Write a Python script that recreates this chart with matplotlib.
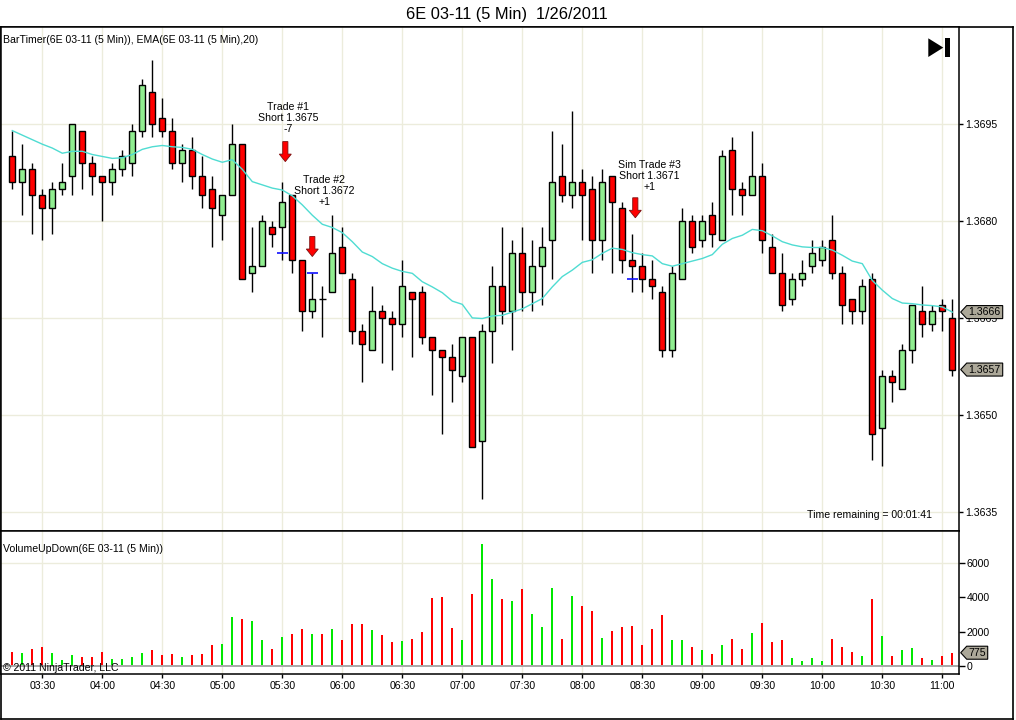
import matplotlib
matplotlib.use('Agg')
import matplotlib.pyplot as plt
from matplotlib.patches import Polygon, Rectangle
import numpy as np

# ---------------- data ----------------
title = "6E 03-11 (5 Min)  1/26/2011"
opens = [1.3690, 1.3686, 1.3688, 1.3684, 1.3682, 1.3685, 1.3687, 1.3694, 1.3689, 1.3687,
         1.3686, 1.3688, 1.3689, 1.3694, 1.3700, 1.3696, 1.3694, 1.3689, 1.3691, 1.3687,
         1.3685, 1.3681, 1.3684, 1.3692, 1.3672, 1.3673, 1.3679, 1.3679, 1.3684, 1.3674,
         1.3666, 1.3668, 1.3669, 1.3676, 1.3671, 1.3663, 1.3660, 1.3666, 1.3665, 1.3664,
         1.3669, 1.3669, 1.3662, 1.3660, 1.3659, 1.3656, 1.3662, 1.3646, 1.3663, 1.3670,
         1.3666, 1.3675, 1.3669, 1.3673, 1.3677, 1.3687, 1.3684, 1.3686, 1.3685, 1.3677,
         1.3687, 1.3682, 1.3674, 1.3673, 1.3671, 1.3669, 1.3660, 1.3671, 1.3680, 1.3677,
         1.3681, 1.3677, 1.3691, 1.3685, 1.3684, 1.3687, 1.3676, 1.3672, 1.3668, 1.3671,
         1.3673, 1.3674, 1.3677, 1.3672, 1.3668, 1.3666, 1.3671, 1.3648, 1.3656, 1.3654,
         1.3660, 1.3666, 1.3664, 1.3667, 1.3665]
highs = [1.3694, 1.3692, 1.3689, 1.3685, 1.3686, 1.3689, 1.3695, 1.3694, 1.3690, 1.3687,
         1.3689, 1.3691, 1.3695, 1.3702, 1.3705, 1.3699, 1.3696, 1.3692, 1.3693, 1.3690,
         1.3687, 1.3684, 1.3695, 1.3692, 1.3679, 1.3681, 1.3680, 1.3686, 1.3684, 1.3674,
         1.3672, 1.3670, 1.3681, 1.3679, 1.3672, 1.3664, 1.3670, 1.3667, 1.3666, 1.3674,
         1.3669, 1.3670, 1.3662, 1.3660, 1.3661, 1.3662, 1.3662, 1.3664, 1.3673, 1.3679,
         1.3677, 1.3679, 1.3677, 1.3679, 1.3694, 1.3692, 1.3697, 1.3688, 1.3687, 1.3688,
         1.3687, 1.3683, 1.3678, 1.3675, 1.3674, 1.3670, 1.3673, 1.3682, 1.3681, 1.3681,
         1.3683, 1.3691, 1.3693, 1.3686, 1.3694, 1.3689, 1.3678, 1.3675, 1.3672, 1.3674,
         1.3677, 1.3677, 1.3681, 1.3673, 1.3668, 1.3671, 1.3672, 1.3657, 1.3657, 1.3661,
         1.3667, 1.3670, 1.3667, 1.3668, 1.3668]
lows = [1.3685, 1.3681, 1.3678, 1.3677, 1.3678, 1.3684, 1.3684, 1.3685, 1.3684, 1.3680,
        1.3684, 1.3687, 1.3687, 1.3693, 1.3693, 1.3693, 1.3688, 1.3686, 1.3685, 1.3682,
        1.3676, 1.3677, 1.3684, 1.3671, 1.3669, 1.3673, 1.3676, 1.3674, 1.3672, 1.3663,
        1.3665, 1.3662, 1.3669, 1.3672, 1.3661, 1.3655, 1.3660, 1.3658, 1.3657, 1.3662,
        1.3659, 1.3661, 1.3653, 1.3647, 1.3652, 1.3655, 1.3645, 1.3637, 1.3658, 1.3664,
        1.3660, 1.3666, 1.3666, 1.3667, 1.3671, 1.3683, 1.3682, 1.3677, 1.3672, 1.3674,
        1.3672, 1.3672, 1.3669, 1.3669, 1.3668, 1.3659, 1.3659, 1.3671, 1.3675, 1.3676,
        1.3676, 1.3677, 1.3681, 1.3681, 1.3684, 1.3675, 1.3672, 1.3666, 1.3667, 1.3670,
        1.3672, 1.3673, 1.3671, 1.3664, 1.3664, 1.3664, 1.3643, 1.3642, 1.3652, 1.3654,
        1.3658, 1.3662, 1.3663, 1.3663, 1.3656]
closes = [1.3686, 1.3688, 1.3684, 1.3682, 1.3685, 1.3686, 1.3695, 1.3689, 1.3687, 1.3686,
          1.3688, 1.3690, 1.3694, 1.3701, 1.3695, 1.3694, 1.3689, 1.3691, 1.3687, 1.3684,
          1.3682, 1.3684, 1.3692, 1.3671, 1.3673, 1.3680, 1.3678, 1.3683, 1.3674, 1.3666,
          1.3668, 1.3668, 1.3675, 1.3672, 1.3663, 1.3661, 1.3666, 1.3665, 1.3664, 1.3670,
          1.3668, 1.3662, 1.3660, 1.3659, 1.3657, 1.3662, 1.3645, 1.3663, 1.3670, 1.3666,
          1.3675, 1.3669, 1.3673, 1.3676, 1.3686, 1.3684, 1.3686, 1.3684, 1.3677, 1.3686,
          1.3683, 1.3674, 1.3673, 1.3671, 1.3670, 1.3660, 1.3672, 1.3680, 1.3676, 1.3680,
          1.3678, 1.3690, 1.3685, 1.3684, 1.3687, 1.3677, 1.3672, 1.3667, 1.3671, 1.3672,
          1.3675, 1.3676, 1.3672, 1.3667, 1.3666, 1.3670, 1.3647, 1.3656, 1.3655, 1.3660,
          1.3667, 1.3664, 1.3666, 1.3666, 1.3657]
ema20 = [1.36940, 1.36933, 1.36926, 1.36919, 1.36913, 1.36905, 1.36908, 1.36908, 1.36903, 1.36900,
         1.36897, 1.36898, 1.36903, 1.36911, 1.36915, 1.36917, 1.36915, 1.36914, 1.36911, 1.36903,
         1.36896, 1.36891, 1.36895, 1.36880, 1.36861, 1.36856, 1.36851, 1.36848, 1.36839, 1.36825,
         1.36809, 1.36795, 1.36790, 1.36782, 1.36768, 1.36752, 1.36745, 1.36734, 1.36727, 1.36722,
         1.36719, 1.36706, 1.36698, 1.36689, 1.36676, 1.36671, 1.36650, 1.36649, 1.36653, 1.36654,
         1.36659, 1.36664, 1.36672, 1.36680, 1.36698, 1.36714, 1.36724, 1.36736, 1.36740, 1.36750,
         1.36758, 1.36756, 1.36751, 1.36748, 1.36746, 1.36734, 1.36730, 1.36734, 1.36738, 1.36742,
         1.36748, 1.36764, 1.36773, 1.36778, 1.36787, 1.36785, 1.36777, 1.36768, 1.36763, 1.36760,
         1.36759, 1.36759, 1.36755, 1.36747, 1.36738, 1.36734, 1.36708, 1.36693, 1.36680, 1.36673,
         1.36672, 1.36670, 1.36669, 1.36667, 1.36659]
volumes = [817, 759, 992, 1109, 759, 350, 642, 525, 525, 817,
           409, 409, 525, 759, 934, 642, 700, 525, 642, 700,
           1226, 1284, 2861, 2744, 2627, 1518, 992, 1693, 1868, 2160,
           1868, 1868, 2160, 1518, 2452, 2452, 2102, 1810, 1401, 1460,
           1576, 1985, 3970, 4028, 2218, 1518, 4203, 7122, 5079, 3911,
           3795, 4495, 3036, 2277, 4554, 1576, 4087, 3503, 3211, 1635,
           2043, 2277, 2335, 1226, 2160, 2977, 1518, 1518, 1109, 934,
           700, 1226, 1576, 992, 1927, 2510, 1401, 1518, 467, 292,
           467, 292, 1576, 1109, 817, 584, 3911, 1751, 584, 934,
           1051, 467, 350, 584, 775]
time_tick_bars = [3, 9, 15, 21, 27, 33, 39, 45, 51, 57, 63, 69, 75, 81, 87, 93]
time_tick_labels = ['03:30', '04:00', '04:30', '05:00', '05:30', '06:00', '06:30', '07:00',
                    '07:30', '08:00', '08:30', '09:00', '09:30', '10:00', '10:30', '11:00']
price_ticks = [1.3635, 1.3650, 1.3665, 1.3680, 1.3695]
volume_ticks = [0, 2000, 4000, 6000]

trade_bars = [27, 30, 62]
trade_entry = [1.3675, 1.3672, 1.3671]
trade_labels = ["Trade #1\nShort 1.3675\n-7", "Trade #2\nShort 1.3672\n+1",
                "Sim Trade #3\nShort 1.3671\n+1"]
trade_arrow_x = [27.3, 30.0, 62.3]
trade_arrow_top = [1.36923, 1.36776, 1.36836]
trade_text_x = [27.6, 31.2, 63.7]
trade_text_y = [1.36960, 1.36847, 1.36870]

# ---------------- styling ----------------
W, H = 1016, 720
GRID = '#ececdc'
UPC, DNC = '#90ee90', '#ff0000'
VUP, VDN = '#00e800', '#ff0000'
FS = 7.6

plt.rcParams['font.family'] = ['Liberation Sans', 'DejaVu Sans']
fig = plt.figure(figsize=(W / 100, H / 100), dpi=100)
fig.patch.set_facecolor('white')


def fx(px):
    return px / W


def fy(py):
    return 1 - py / H


# outer frame
frame = fig.add_axes([fx(1), fy(719), fx(1013) - fx(1), fy(27.3) - fy(719)])
frame.set_xticks([])
frame.set_yticks([])
for s in frame.spines.values():
    s.set_linewidth(1.2)

ax = fig.add_axes([fx(1), fy(531), fx(959.3) - fx(1), fy(27.3) - fy(531)])
axv = fig.add_axes([fx(1), fy(674), fx(959.3) - fx(1), fy(531) - fy(674)])

n = len(opens)
x = np.arange(n)
o = np.array(opens)
h = np.array(highs)
l = np.array(lows)
c = np.array(closes)

# ---- price panel ----
ax.set_xlim(-1.13, 94.7)
ax.set_ylim(1.36320, 1.37100)
ax.set_axisbelow(True)
ax.set_xticks(time_tick_bars)
ax.tick_params(axis='x', length=0, labelbottom=False)
ax.yaxis.tick_right()
ax.set_yticks(price_ticks)
ax.set_yticklabels([f"{p:.4f}" for p in price_ticks])
ax.tick_params(axis='y', length=3, width=1, pad=1, labelsize=FS)
ax.grid(True, color=GRID, lw=1)
for s in ax.spines.values():
    s.set_linewidth(1.1)

ax.vlines(x, l, h, color='black', lw=1, zorder=2)
nz = c != o
bcol = np.where(c > o, UPC, DNC)
ax.bar(x[nz], np.abs(c - o)[nz], bottom=np.minimum(o, c)[nz], width=0.62,
       color=bcol[nz], edgecolor='black', lw=1, zorder=3)
dz = ~nz
ax.hlines(c[dz], x[dz] - 0.35, x[dz] + 0.35, color='black', lw=1, zorder=3)
ax.plot(x, ema20, color='#4fdcd2', lw=1, zorder=4)

# trade markers
for b, pe in zip(trade_bars, trade_entry):
    ax.hlines(pe, b - 0.55, b + 0.55, color='#1010ff', lw=1.2, zorder=4)
for tx, ty, lab in zip(trade_text_x, trade_text_y, trade_labels):
    ax.text(tx, ty, lab, ha='center', va='center', fontsize=FS, linespacing=1.12, zorder=5)

fig.canvas.draw()
for ax_x, ay in zip(trade_arrow_x, trade_arrow_top):
    X, Y = ax.transData.transform((ax_x, ay))
    L, sw, hw, hl = 20, 2.6, 6.0, 7.5
    pts = [(X - sw, Y), (X + sw, Y), (X + sw, Y - (L - hl)), (X + hw, Y - (L - hl)),
           (X, Y - L), (X - hw, Y - (L - hl)), (X - sw, Y - (L - hl))]
    fig.patches.append(Polygon(pts, closed=True, transform=None, facecolor='#ff0000',
                               edgecolor='#7a1010', lw=0.6, zorder=6))

# ---- volume panel ----
axv.set_xlim(-1.13, 94.7)
axv.set_ylim(-466, 7872)
axv.set_axisbelow(True)
axv.set_xticks(time_tick_bars)
axv.set_xticklabels(time_tick_labels)
axv.tick_params(axis='x', length=3, width=1, pad=2, labelsize=FS)
axv.yaxis.tick_right()
axv.set_yticks(volume_ticks)
axv.set_yticklabels([str(v) for v in volume_ticks])
axv.tick_params(axis='y', length=4, width=1, pad=1.5, labelsize=FS)
axv.grid(True, axis='x', color=GRID, lw=1)
axv.axhline(6000, color=GRID, lw=1, zorder=0.5)
for s in axv.spines.values():
    s.set_linewidth(1.1)
vcol = np.where(c > o, VUP, VDN)
axv.bar(x, volumes, width=0.22, color=vcol, zorder=2)
axv.axhline(0, color='#a8a8a8', lw=1.4, zorder=2.5)

# ---- right-side value flags ----
fig.canvas.draw()


def flag(axis, yval, text, right):
    X0, Y = axis.transData.transform((94.7, yval))
    X0 += 1.4
    hh = 6.5
    pts = [(X0, Y), (X0 + 6, Y + hh), (X0 + right, Y + hh), (X0 + right, Y - hh), (X0 + 6, Y - hh)]
    fig.patches.append(Polygon(pts, closed=True, transform=None, facecolor='#aca899',
                               edgecolor='black', lw=0.8, zorder=6))
    fig.texts.append(matplotlib.text.Text(X0 + 7.5, Y, text, transform=None, fontsize=FS,
                                          va='center', ha='left', zorder=7, figure=fig))


flag(ax, ema20[-1], f"{ema20[-1]:.4f}", 42)
flag(ax, closes[-1], f"{closes[-1]:.4f}", 42)
flag(axv, volumes[-1], str(volumes[-1]), 27)

# ---- texts ----
fig.text(fx(506.5), fy(14), title, ha='center', va='center', fontsize=11.8)
fig.text(fx(3), fy(40), "BarTimer(6E 03-11 (5 Min)), EMA(6E 03-11 (5 Min),20)",
         ha='left', va='center', fontsize=FS)
fig.text(fx(3), fy(549.3), "VolumeUpDown(6E 03-11 (5 Min))", ha='left', va='center', fontsize=FS)
fig.text(fx(3), fy(668), "\u00a9 2011 NinjaTrader, LLC", ha='left', va='center', fontsize=FS)
fig.text(fx(932), fy(515.5), "Time remaining = 00:01:41", ha='right', va='center', fontsize=FS)

# go-to-end icon
fig.patches.append(Polygon([(fx(928.3), fy(38.3)), (fx(928.3), fy(57)), (fx(943.3), fy(47.6))],
                           closed=True, transform=fig.transFigure, facecolor='black',
                           edgecolor='none', zorder=6))
fig.patches.append(Rectangle((fx(945), fy(57)), fx(949.5) - fx(945), fy(38.3) - fy(57),
                             transform=fig.transFigure, facecolor='black', edgecolor='none',
                             zorder=6))

fig.savefig('out.png', dpi=100)
